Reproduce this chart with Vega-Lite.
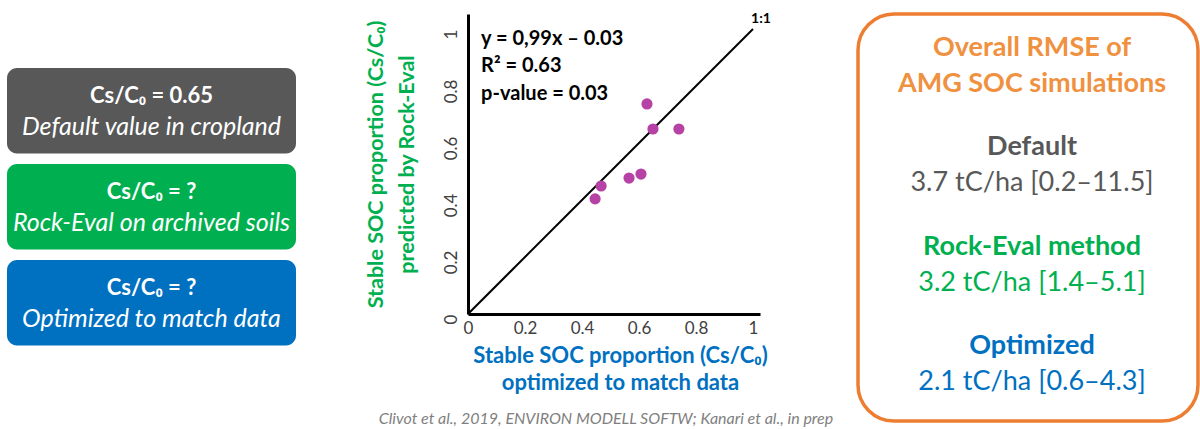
{
  "$schema": "https://vega.github.io/schema/vega-lite/v6.json",
  "padding": {"left": 7, "top": 11, "right": 2, "bottom": 0},
  "background": "white",
  "config": {"view": {"stroke": null}, "font": "Lato", "text": {"font": "Lato"}},
  "resolve": {"scale": {"color": "independent"}},
  "datasets": {
    "boxes": [
      {"box": "Default", "label": "Cs/C₀ = 0.65", "note": "Default value in cropland"},
      {"box": "Rock-Eval", "label": "Cs/C₀ = ?", "note": "Rock-Eval on archived soils"},
      {"box": "Optimized", "label": "Cs/C₀ = ?", "note": "Optimized to match data"}
    ],
    "sites": [
      {"optimized": 0.628, "rockeval": 0.737},
      {"optimized": 0.649, "rockeval": 0.649},
      {"optimized": 0.740, "rockeval": 0.649},
      {"optimized": 0.607, "rockeval": 0.491},
      {"optimized": 0.565, "rockeval": 0.477},
      {"optimized": 0.467, "rockeval": 0.449},
      {"optimized": 0.446, "rockeval": 0.404}
    ],
    "identity": [{"v": 0}, {"v": 1}],
    "stats": [{"text": "y = 0,99x – 0.03\nR² = 0.63\np-value = 0.03"}],
    "source": [{"text": "Clivot et al., 2019, ENVIRON MODELL SOFTW; Kanari et al., in prep"}],
    "rmse": [
      {"section": "Heading", "label": "Overall RMSE of", "value": "AMG SOC simulations"},
      {"section": "Default", "label": "Default", "value": "3.7 tC/ha [0.2–11.5]"},
      {"section": "Rock-Eval", "label": "Rock-Eval method", "value": "3.2 tC/ha [1.4–5.1]"},
      {"section": "Optimized", "label": "Optimized", "value": "2.1 tC/ha [0.6–4.3]"}
    ]
  },
  "spacing": 172,
  "bounds": "flush",
  "hconcat": [
    {
      "width": 289,
      "height": 416,
      "data": {"name": "boxes"},
      "encoding": {
        "y": {"field": "box", "type": "nominal", "sort": null, "axis": null,
              "scale": {"paddingInner": 0.109, "paddingOuter": 0.721, "align": 0.39}}
      },
      "layer": [
        {
          "mark": {"type": "rect", "cornerRadius": 10},
          "encoding": {
            "color": {"field": "box", "type": "nominal", "legend": null,
                      "scale": {"domain": ["Heading", "Default", "Rock-Eval", "Optimized"], "range": ["#F0913F", "#585858", "#00B050", "#0070C0"]}}
          }
        },
        {
          "mark": {"type": "text", "fontWeight": "bold", "fontSize": 22, "color": "white", "dy": -15},
          "encoding": {"text": {"field": "label"}}
        },
        {
          "mark": {"type": "text", "fontStyle": "italic", "fontSize": 25, "color": "white", "dy": 16},
          "encoding": {"text": {"field": "note"}}
        }
      ]
    },
    {
      "spacing": 98,
      "bounds": "flush",
      "hconcat": [
        {
          "width": 292,
          "height": 300,
          "layer": [
            {
              "data": {"name": "identity"},
              "mark": {"type": "line", "color": "black", "strokeWidth": 2},
              "encoding": {
                "x": {"field": "v", "type": "quantitative",
                      "scale": {"domain": [0, 1.0246], "nice": false, "zero": false},
                      "axis": {"values": [0, 0.2, 0.4, 0.6, 0.8, 1], "format": "~g", "labelFontSize": 17, "labelColor": "#404040",
                               "labelPadding": 6, "labelFlush": false, "labelOverlap": false, "ticks": false, "grid": false,
                               "domainColor": "black", "domainWidth": 3,
                               "title": ["Stable SOC proportion (Cs/C₀)", "optimized to match data"],
                               "titleColor": "#0070C0", "titleFontSize": 22, "titleFontWeight": "bold",
                               "titleLineHeight": 27, "titlePadding": 9, "titleX": 152, "titleAlign": "center"}},
                "y": {"field": "v", "type": "quantitative",
                      "scale": {"domain": [0, 1.0526], "nice": false, "zero": false},
                      "axis": {"values": [0, 0.2, 0.4, 0.6, 0.8, 1], "format": "~g", "labelFontSize": 17, "labelColor": "#404040",
                               "labelAngle": -90, "labelAlign": "center", "labelBaseline": "bottom", "labelOffset": 5,
                               "labelPadding": 8, "labelFlush": false, "labelOverlap": false, "ticks": false, "grid": false,
                               "domainColor": "black", "domainWidth": 3,
                               "title": ["Stable SOC proportion (Cs/C₀)", "predicted by Rock-Eval"],
                               "titleColor": "#00B050", "titleFontSize": 21.5, "titleFontWeight": "bold",
                               "titleLineHeight": 31, "titlePadding": 24}}
              }
            },
            {
              "data": {"name": "identity"},
              "transform": [{"filter": "datum.v == 1"}],
              "mark": {"type": "text", "text": "1:1", "fontWeight": "bold", "fontSize": 14, "dx": 8, "dy": -10},
              "encoding": {
                "x": {"field": "v", "type": "quantitative"},
                "y": {"field": "v", "type": "quantitative"}
              }
            },
            {
              "data": {"name": "sites"},
              "mark": {"type": "circle", "size": 125, "opacity": 1, "color": "#B542A4"},
              "encoding": {
                "x": {"field": "optimized", "type": "quantitative"},
                "y": {"field": "rockeval", "type": "quantitative"}
              }
            },
            {
              "data": {"name": "stats"},
              "mark": {"type": "text", "align": "left", "baseline": "middle", "fontWeight": "bold", "fontSize": 20,
                       "lineBreak": "\n", "lineHeight": 27.5, "color": "black"},
              "encoding": {
                "x": {"datum": 0.046, "type": "quantitative"},
                "y": {"datum": 0.965, "type": "quantitative"},
                "text": {"field": "text"}
              }
            },
            {
              "data": {"name": "source"},
              "mark": {"type": "text", "fontStyle": "italic", "fontSize": 16, "color": "#7F7F7F"},
              "encoding": {
                "x": {"datum": 0.484, "type": "quantitative"},
                "y": {"datum": -0.368, "type": "quantitative"},
                "text": {"field": "text"}
              }
            }
          ]
        },
        {
          "width": 340,
          "height": 407,
          "view": {"stroke": "#ED7D31", "strokeWidth": 3.5, "cornerRadius": 36, "fill": "white"},
          "data": {"name": "rmse"},
          "encoding": {
            "y": {"field": "section", "type": "nominal", "sort": null, "axis": null,
                  "scale": {"type": "point", "padding": 0.545, "align": 0.479}},
            "color": {"field": "section", "type": "nominal", "legend": null,
                      "scale": {"domain": ["Heading", "Default", "Rock-Eval", "Optimized"],
                                "range": ["#F0913F", "#585858", "#00B050", "#0070C0"]}}
          },
          "layer": [
            {
              "mark": {"type": "text", "fontWeight": "bold", "fontSize": 27, "dy": -18, "dx": 4},
              "encoding": {"text": {"field": "label"}}
            },
            {
              "transform": [{"filter": "datum.section != 'Heading'"}],
              "mark": {"type": "text", "fontSize": 27, "dy": 18, "dx": 4},
              "encoding": {"text": {"field": "value"}}
            },
            {
              "transform": [{"filter": "datum.section == 'Heading'"}],
              "mark": {"type": "text", "fontWeight": "bold", "fontSize": 27, "dy": 18, "dx": 4},
              "encoding": {"text": {"field": "value"}}
            }
          ]
        }
      ]
    }
  ]
}
